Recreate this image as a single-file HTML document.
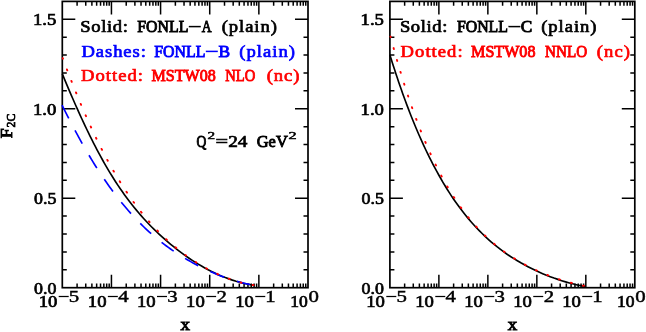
<!DOCTYPE html>
<html><head><meta charset="utf-8"><title>F2C</title>
<style>html,body{margin:0;padding:0;background:#fff;}svg{will-change:transform;}body{width:646px;height:332px;overflow:hidden;font-family:"Liberation Serif",serif;}svg text{font-family:"Liberation Serif",serif;font-weight:normal;}</style>
</head><body>
<svg width="646" height="332" viewBox="0 0 646 332" style="display:block"><rect x="62.3" y="1.4" width="245.70" height="286.30" fill="none" stroke="#000" stroke-width="1.7"/>
<path d="M77.09 287.7v-4.3M77.09 1.4v4.3M85.75 287.7v-4.3M85.75 1.4v4.3M91.89 287.7v-4.3M91.89 1.4v4.3M96.65 287.7v-4.3M96.65 1.4v4.3M100.54 287.7v-4.3M100.54 1.4v4.3M103.83 287.7v-4.3M103.83 1.4v4.3M106.68 287.7v-4.3M106.68 1.4v4.3M109.19 287.7v-4.3M109.19 1.4v4.3M111.44 287.7v-13.0M111.44 1.4v13.0M126.23 287.7v-4.3M126.23 1.4v4.3M134.89 287.7v-4.3M134.89 1.4v4.3M141.03 287.7v-4.3M141.03 1.4v4.3M145.79 287.7v-4.3M145.79 1.4v4.3M149.68 287.7v-4.3M149.68 1.4v4.3M152.97 287.7v-4.3M152.97 1.4v4.3M155.82 287.7v-4.3M155.82 1.4v4.3M158.33 287.7v-4.3M158.33 1.4v4.3M160.58 287.7v-13.0M160.58 1.4v13.0M175.37 287.7v-4.3M175.37 1.4v4.3M184.03 287.7v-4.3M184.03 1.4v4.3M190.17 287.7v-4.3M190.17 1.4v4.3M194.93 287.7v-4.3M194.93 1.4v4.3M198.82 287.7v-4.3M198.82 1.4v4.3M202.11 287.7v-4.3M202.11 1.4v4.3M204.96 287.7v-4.3M204.96 1.4v4.3M207.47 287.7v-4.3M207.47 1.4v4.3M209.72 287.7v-13.0M209.72 1.4v13.0M224.51 287.7v-4.3M224.51 1.4v4.3M233.17 287.7v-4.3M233.17 1.4v4.3M239.31 287.7v-4.3M239.31 1.4v4.3M244.07 287.7v-4.3M244.07 1.4v4.3M247.96 287.7v-4.3M247.96 1.4v4.3M251.25 287.7v-4.3M251.25 1.4v4.3M254.10 287.7v-4.3M254.10 1.4v4.3M256.61 287.7v-4.3M256.61 1.4v4.3M258.86 287.7v-13.0M258.86 1.4v13.0M273.65 287.7v-4.3M273.65 1.4v4.3M282.31 287.7v-4.3M282.31 1.4v4.3M288.45 287.7v-4.3M288.45 1.4v4.3M293.21 287.7v-4.3M293.21 1.4v4.3M297.10 287.7v-4.3M297.10 1.4v4.3M300.39 287.7v-4.3M300.39 1.4v4.3M303.24 287.7v-4.3M303.24 1.4v4.3M305.75 287.7v-4.3M305.75 1.4v4.3M62.3 269.81h4.5M308.0 269.81h-4.5M62.3 251.91h4.5M308.0 251.91h-4.5M62.3 234.02h4.5M308.0 234.02h-4.5M62.3 216.12h4.5M308.0 216.12h-4.5M62.3 198.23h13.0M308.0 198.23h-13.0M62.3 180.34h4.5M308.0 180.34h-4.5M62.3 162.44h4.5M308.0 162.44h-4.5M62.3 144.55h4.5M308.0 144.55h-4.5M62.3 126.66h4.5M308.0 126.66h-4.5M62.3 108.76h13.0M308.0 108.76h-13.0M62.3 90.87h4.5M308.0 90.87h-4.5M62.3 72.98h4.5M308.0 72.98h-4.5M62.3 55.08h4.5M308.0 55.08h-4.5M62.3 37.19h4.5M308.0 37.19h-4.5M62.3 19.29h13.0M308.0 19.29h-13.0" fill="none" stroke="#000" stroke-width="1.5"/>
<rect x="389.9" y="1.4" width="244.90" height="286.30" fill="none" stroke="#000" stroke-width="1.7"/>
<path d="M404.64 287.7v-4.3M404.64 1.4v4.3M413.27 287.7v-4.3M413.27 1.4v4.3M419.39 287.7v-4.3M419.39 1.4v4.3M424.14 287.7v-4.3M424.14 1.4v4.3M428.01 287.7v-4.3M428.01 1.4v4.3M431.29 287.7v-4.3M431.29 1.4v4.3M434.13 287.7v-4.3M434.13 1.4v4.3M436.64 287.7v-4.3M436.64 1.4v4.3M438.88 287.7v-13.0M438.88 1.4v13.0M453.62 287.7v-4.3M453.62 1.4v4.3M462.25 287.7v-4.3M462.25 1.4v4.3M468.37 287.7v-4.3M468.37 1.4v4.3M473.12 287.7v-4.3M473.12 1.4v4.3M476.99 287.7v-4.3M476.99 1.4v4.3M480.27 287.7v-4.3M480.27 1.4v4.3M483.11 287.7v-4.3M483.11 1.4v4.3M485.62 287.7v-4.3M485.62 1.4v4.3M487.86 287.7v-13.0M487.86 1.4v13.0M502.60 287.7v-4.3M502.60 1.4v4.3M511.23 287.7v-4.3M511.23 1.4v4.3M517.35 287.7v-4.3M517.35 1.4v4.3M522.10 287.7v-4.3M522.10 1.4v4.3M525.97 287.7v-4.3M525.97 1.4v4.3M529.25 287.7v-4.3M529.25 1.4v4.3M532.09 287.7v-4.3M532.09 1.4v4.3M534.60 287.7v-4.3M534.60 1.4v4.3M536.84 287.7v-13.0M536.84 1.4v13.0M551.58 287.7v-4.3M551.58 1.4v4.3M560.21 287.7v-4.3M560.21 1.4v4.3M566.33 287.7v-4.3M566.33 1.4v4.3M571.08 287.7v-4.3M571.08 1.4v4.3M574.95 287.7v-4.3M574.95 1.4v4.3M578.23 287.7v-4.3M578.23 1.4v4.3M581.07 287.7v-4.3M581.07 1.4v4.3M583.58 287.7v-4.3M583.58 1.4v4.3M585.82 287.7v-13.0M585.82 1.4v13.0M600.56 287.7v-4.3M600.56 1.4v4.3M609.19 287.7v-4.3M609.19 1.4v4.3M615.31 287.7v-4.3M615.31 1.4v4.3M620.06 287.7v-4.3M620.06 1.4v4.3M623.93 287.7v-4.3M623.93 1.4v4.3M627.21 287.7v-4.3M627.21 1.4v4.3M630.05 287.7v-4.3M630.05 1.4v4.3M632.56 287.7v-4.3M632.56 1.4v4.3M389.9 269.81h4.5M634.8 269.81h-4.5M389.9 251.91h4.5M634.8 251.91h-4.5M389.9 234.02h4.5M634.8 234.02h-4.5M389.9 216.12h4.5M634.8 216.12h-4.5M389.9 198.23h13.0M634.8 198.23h-13.0M389.9 180.34h4.5M634.8 180.34h-4.5M389.9 162.44h4.5M634.8 162.44h-4.5M389.9 144.55h4.5M634.8 144.55h-4.5M389.9 126.66h4.5M634.8 126.66h-4.5M389.9 108.76h13.0M634.8 108.76h-13.0M389.9 90.87h4.5M634.8 90.87h-4.5M389.9 72.98h4.5M634.8 72.98h-4.5M389.9 55.08h4.5M634.8 55.08h-4.5M389.9 37.19h4.5M634.8 37.19h-4.5M389.9 19.29h13.0M634.8 19.29h-13.0" fill="none" stroke="#000" stroke-width="1.5"/>
<path d="M62.30 73.93L63.75 77.42L65.20 80.91L66.66 84.39L68.13 87.88L69.62 91.35L71.11 94.83L72.61 98.29L74.13 101.76L75.66 105.21L77.20 108.67L78.75 112.11L80.32 115.55L81.90 118.99L83.49 122.41L85.10 125.83L86.73 129.25L88.38 132.65L90.04 136.04L91.73 139.43L93.43 142.80L95.16 146.16L96.91 149.52L98.68 152.85L100.47 156.18L102.30 159.49L104.15 162.79L106.03 166.07L107.94 169.33L109.88 172.57L111.85 175.80L113.86 179.00L115.90 182.18L117.98 185.34L120.10 188.47L122.25 191.58L124.44 194.66L126.67 197.71L128.94 200.74L131.25 203.73L133.60 206.69L135.99 209.62L138.42 212.52L140.89 215.38L143.40 218.20L145.95 220.99L148.55 223.74L151.18 226.45L153.86 229.12L156.57 231.75L159.32 234.34L162.11 236.90L164.93 239.41L167.79 241.89L170.68 244.32L173.60 246.72L176.56 249.07L179.56 251.38L182.59 253.64L185.65 255.85L188.75 258.01L191.89 260.12L195.07 262.17L198.28 264.15L201.54 266.08L204.83 267.94L208.15 269.74L211.52 271.46L214.92 273.11L218.36 274.68L221.83 276.17L225.34 277.57L228.89 278.88L232.46 280.11L236.07 281.24L239.71 282.27L243.37 283.20L247.06 284.03L250.77 284.75L254.50 285.37" stroke="#000" stroke-width="1.65" fill="none"/>
<path d="M62.00 105.07L63.90 108.89L65.80 112.68L67.70 116.42L69.60 120.12L71.49 123.78L73.39 127.39L75.29 130.95L77.19 134.47L79.09 137.94L80.99 141.37L82.89 144.74L84.79 148.07L86.69 151.34L88.59 154.57L90.48 157.74L92.38 160.87L94.28 163.95L96.18 166.97L98.08 169.95L99.98 172.87L101.88 175.74L103.78 178.56L105.68 181.34L107.58 184.06L109.47 186.73L111.37 189.35L113.27 191.92L115.17 194.45L117.07 196.92L118.97 199.35L120.87 201.72L122.77 204.05L124.67 206.34L126.57 208.57L128.46 210.77L130.36 212.91L132.26 215.01L134.16 217.07L136.06 219.08L137.96 221.06L139.86 222.98L141.76 224.87L143.66 226.72L145.56 228.53L147.45 230.30L149.35 232.03L151.25 233.72L153.15 235.37L155.05 236.99L156.95 238.58L158.85 240.13L160.75 241.64L162.65 243.13L164.55 244.58L166.44 245.99L168.34 247.38L170.24 248.74L172.14 250.07L174.04 251.37L175.94 252.64L177.84 253.89L179.74 255.10L181.64 256.30L183.54 257.46L185.43 258.60L187.33 259.72L189.23 260.82L191.13 261.89L193.03 262.93L194.93 263.96L196.83 264.96L198.73 265.95L200.63 266.91L202.53 267.85L204.42 268.77L206.32 269.67L208.22 270.55L210.12 271.41L212.02 272.25L213.92 273.07L215.82 273.87L217.72 274.65L219.62 275.41L221.52 276.15L223.41 276.87L225.31 277.56L227.21 278.24L229.11 278.90L231.01 279.53L232.91 280.14L234.81 280.73L236.71 281.29L238.61 281.83L240.51 282.35L242.40 282.83L244.30 283.30L246.20 283.73L248.10 284.13L250.00 284.50" stroke="#00f" stroke-width="1.65" fill="none" stroke-dasharray="15.0 13.5"/>
<path d="M62.75 58.22L64.36 62.56L65.96 66.85L67.57 71.09L69.18 75.28L70.79 79.42L72.39 83.51L74.00 87.56L75.61 91.55L77.21 95.49L78.82 99.38L80.43 103.22L82.04 107.01L83.64 110.75L85.25 114.43L86.86 118.07L88.46 121.65L90.07 125.18L91.68 128.66L93.29 132.09L94.89 135.47L96.50 138.80L98.11 142.08L99.71 145.30L101.32 148.48L102.93 151.60L104.54 154.68L106.14 157.70L107.75 160.68L109.36 163.60L110.96 166.48L112.57 169.31L114.18 172.09L115.79 174.83L117.39 177.51L119.00 180.15L120.61 182.75L122.21 185.29L123.82 187.80L125.43 190.25L127.04 192.67L128.64 195.04L130.25 197.36L131.86 199.64L133.46 201.88L135.07 204.08L136.68 206.24L138.29 208.35L139.89 210.43L141.50 212.47L143.11 214.46L144.71 216.42L146.32 218.34L147.93 220.23L149.54 222.08L151.14 223.89L152.75 225.66L154.36 227.41L155.96 229.11L157.57 230.79L159.18 232.43L160.79 234.04L162.39 235.61L164.00 237.16L165.61 238.67L167.21 240.15L168.82 241.61L170.43 243.03L172.04 244.43L173.64 245.80L175.25 247.14L176.86 248.46L178.46 249.74L180.07 251.01L181.68 252.24L183.29 253.45L184.89 254.64L186.50 255.81L188.11 256.94L189.71 258.06L191.32 259.15L192.93 260.22L194.54 261.27L196.14 262.30L197.75 263.30L199.36 264.29L200.96 265.25L202.57 266.19L204.18 267.11L205.79 268.01L207.39 268.89L209.00 269.75L210.61 270.59L212.21 271.41L213.82 272.21L215.43 272.99L217.04 273.75L218.64 274.49L220.25 275.21L221.86 275.91L223.46 276.59L225.07 277.25L226.68 277.89L228.29 278.50L229.89 279.10L231.50 279.68L233.11 280.23L234.71 280.76L236.32 281.27L237.93 281.75L239.54 282.22L241.14 282.65L242.75 283.07L244.36 283.46L245.96 283.82L247.57 284.15L249.18 284.46L250.79 284.74L252.39 284.99L254.00 285.21" stroke="#f00" stroke-width="1.9" fill="none" stroke-linecap="round" stroke-dasharray="1.0 11.4" stroke-dashoffset="0.5"/>
<path d="M389.90 54.88L391.10 58.76L392.32 62.63L393.55 66.50L394.80 70.37L396.06 74.22L397.34 78.08L398.64 81.92L399.96 85.76L401.30 89.60L402.65 93.42L404.03 97.24L405.42 101.05L406.84 104.86L408.28 108.66L409.74 112.44L411.22 116.22L412.73 119.99L414.26 123.75L415.82 127.50L417.40 131.24L419.01 134.97L420.65 138.68L422.32 142.38L424.01 146.07L425.74 149.74L427.50 153.40L429.30 157.04L431.12 160.67L432.98 164.28L434.88 167.87L436.81 171.44L438.77 174.99L440.77 178.53L442.80 182.04L444.88 185.53L447.00 188.99L449.16 192.43L451.38 195.83L453.65 199.19L455.97 202.53L458.34 205.82L460.76 209.08L463.24 212.29L465.77 215.47L468.36 218.60L471.00 221.68L473.69 224.72L476.44 227.70L479.25 230.63L482.12 233.51L485.04 236.33L488.02 239.08L491.06 241.77L494.16 244.40L497.31 246.96L500.52 249.44L503.78 251.86L507.10 254.20L510.47 256.46L513.88 258.66L517.35 260.78L520.85 262.83L524.40 264.80L527.98 266.71L531.60 268.55L535.25 270.32L538.94 272.02L542.66 273.64L546.41 275.20L550.19 276.67L554.00 278.08L557.84 279.40L561.70 280.66L565.58 281.84L569.49 282.94L573.42 283.97L577.36 284.93L581.32 285.82L585.30 286.64" stroke="#000" stroke-width="1.65" fill="none"/>
<path d="M390.50 36.57L392.13 42.67L393.76 48.64L395.39 54.49L397.02 60.22L398.65 65.82L400.28 71.31L401.91 76.68L403.54 81.93L405.17 87.07L406.80 92.10L408.43 97.02L410.06 101.84L411.69 106.54L413.32 111.15L414.95 115.65L416.58 120.05L418.21 124.36L419.84 128.56L421.47 132.67L423.11 136.69L424.74 140.62L426.37 144.46L428.00 148.20L429.63 151.87L431.26 155.44L432.89 158.94L434.52 162.35L436.15 165.68L437.78 168.94L439.41 172.11L441.04 175.21L442.67 178.24L444.30 181.20L445.93 184.08L447.56 186.89L449.19 189.64L450.82 192.32L452.45 194.94L454.08 197.49L455.71 199.98L457.34 202.41L458.97 204.78L460.60 207.09L462.23 209.34L463.86 211.54L465.49 213.69L467.12 215.78L468.75 217.82L470.38 219.81L472.01 221.75L473.64 223.64L475.27 225.49L476.90 227.29L478.53 229.05L480.16 230.76L481.79 232.43L483.42 234.06L485.05 235.65L486.68 237.20L488.32 238.71L489.95 240.19L491.58 241.63L493.21 243.03L494.84 244.41L496.47 245.74L498.10 247.05L499.73 248.32L501.36 249.57L502.99 250.78L504.62 251.97L506.25 253.12L507.88 254.25L509.51 255.36L511.14 256.44L512.77 257.49L514.40 258.52L516.03 259.52L517.66 260.50L519.29 261.46L520.92 262.40L522.55 263.32L524.18 264.22L525.81 265.09L527.44 265.95L529.07 266.79L530.70 267.61L532.33 268.41L533.96 269.19L535.59 269.96L537.22 270.71L538.85 271.44L540.48 272.16L542.11 272.86L543.74 273.54L545.37 274.21L547.00 274.87L548.63 275.51L550.26 276.13L551.89 276.74L553.53 277.34L555.16 277.92L556.79 278.49L558.42 279.04L560.05 279.58L561.68 280.10L563.31 280.61L564.94 281.11L566.57 281.59L568.20 282.06L569.83 282.51L571.46 282.95L573.09 283.37L574.72 283.78L576.35 284.17L577.98 284.55L579.61 284.91L581.24 285.25L582.87 285.58L584.50 285.89" stroke="#f00" stroke-width="1.9" fill="none" stroke-linecap="round" stroke-dasharray="1.0 11.4" stroke-dashoffset="0.5"/>
<text transform="translate(80.30,32.0) scale(1.07,1)" font-size="17.4" fill="#000" stroke="#000" stroke-width="0.7" letter-spacing="0.573">Solid:</text>
<text x="137.32" y="32.0" font-size="17.4" fill="#000" stroke="#000" stroke-width="0.95" textLength="51.06" lengthAdjust="spacingAndGlyphs">FONLL</text>
<path d="M188.80 26.60h12" stroke="#000" stroke-width="1.5" fill="none"/>
<text x="201.84" y="32.0" font-size="17.4" fill="#000" stroke="#000" stroke-width="0.95" textLength="9.78" lengthAdjust="spacingAndGlyphs">A</text>
<text transform="translate(221.63,32.0) scale(1.07,1)" font-size="17.4" fill="#000" stroke="#000" stroke-width="0.7" letter-spacing="0.889">(plain)</text>
<text transform="translate(81.41,56.8) scale(1.07,1)" font-size="17.4" fill="#00f" stroke="#00f" stroke-width="0.7" letter-spacing="0.872">Dashes:</text>
<text x="154.32" y="56.8" font-size="17.4" fill="#00f" stroke="#00f" stroke-width="0.95" textLength="51.06" lengthAdjust="spacingAndGlyphs">FONLL</text>
<path d="M205.80 51.40h12" stroke="#00f" stroke-width="1.5" fill="none"/>
<text x="218.47" y="56.8" font-size="17.4" fill="#00f" stroke="#00f" stroke-width="0.95" textLength="11.60" lengthAdjust="spacingAndGlyphs">B</text>
<text transform="translate(239.13,56.8) scale(1.07,1)" font-size="17.4" fill="#00f" stroke="#00f" stroke-width="0.7" letter-spacing="0.983">(plain)</text>
<text transform="translate(81.01,81.4) scale(1.07,1)" font-size="17.4" fill="#f00" stroke="#f00" stroke-width="0.7" letter-spacing="0.966">Dotted:</text>
<text x="151.51" y="81.4" font-size="17.4" fill="#f00" stroke="#f00" stroke-width="0.95" textLength="64.33" lengthAdjust="spacingAndGlyphs">MSTW08</text>
<text x="225.25" y="81.4" font-size="17.4" fill="#f00" stroke="#f00" stroke-width="0.95" textLength="30.07" lengthAdjust="spacingAndGlyphs">NLO</text>
<text transform="translate(266.73,81.4) scale(1.07,1)" font-size="17.4" fill="#f00" stroke="#f00" stroke-width="0.7" letter-spacing="0.830">(nc)</text>
<text transform="translate(399.90,32.0) scale(1.07,1)" font-size="17.4" fill="#000" stroke="#000" stroke-width="0.7" letter-spacing="0.573">Solid:</text>
<text x="456.92" y="32.0" font-size="17.4" fill="#000" stroke="#000" stroke-width="0.95" textLength="51.06" lengthAdjust="spacingAndGlyphs">FONLL</text>
<path d="M508.40 26.60h12" stroke="#000" stroke-width="1.5" fill="none"/>
<text x="520.87" y="32.0" font-size="17.4" fill="#000" stroke="#000" stroke-width="0.95" textLength="11.51" lengthAdjust="spacingAndGlyphs">C</text>
<text transform="translate(541.23,32.0) scale(1.07,1)" font-size="17.4" fill="#000" stroke="#000" stroke-width="0.7" letter-spacing="0.889">(plain)</text>
<text transform="translate(400.61,57.0) scale(1.07,1)" font-size="17.4" fill="#f00" stroke="#f00" stroke-width="0.7" letter-spacing="0.966">Dotted:</text>
<text x="471.11" y="57.0" font-size="17.4" fill="#f00" stroke="#f00" stroke-width="0.95" textLength="64.33" lengthAdjust="spacingAndGlyphs">MSTW08</text>
<text x="545.04" y="57.0" font-size="17.4" fill="#f00" stroke="#f00" stroke-width="0.95" textLength="42.11" lengthAdjust="spacingAndGlyphs">NNLO</text>
<text transform="translate(596.73,57.0) scale(1.07,1)" font-size="17.4" fill="#f00" stroke="#f00" stroke-width="0.7" letter-spacing="1.048">(nc)</text>
<text x="196.54" y="146.8" font-size="17.4" fill="#000" stroke="#000" stroke-width="1.0" textLength="9.79" lengthAdjust="spacingAndGlyphs">Q</text>
<text x="207.48" y="138.9" font-size="10.8" fill="#000" stroke="#000" stroke-width="0.5" textLength="7.61" lengthAdjust="spacingAndGlyphs">2</text>
<text x="215.59" y="146.8" font-size="17.4" fill="#000" stroke="#000" stroke-width="0.6" textLength="12.60" lengthAdjust="spacingAndGlyphs">=</text>
<text x="228.20" y="146.8" font-size="17.4" fill="#000" stroke="#000" stroke-width="0.7" textLength="19.25" lengthAdjust="spacingAndGlyphs">24</text>
<text x="256.80" y="146.8" font-size="17.4" fill="#000" stroke="#000" stroke-width="0.95" textLength="30.91" lengthAdjust="spacingAndGlyphs">GeV</text>
<text x="288.54" y="138.9" font-size="10.8" fill="#000" stroke="#000" stroke-width="0.5" textLength="8.11" lengthAdjust="spacingAndGlyphs">2</text>
<text x="33.01" y="25.193749999999987" font-size="16.4" fill="#000" stroke="#000" stroke-width="0.7" textLength="23.37" lengthAdjust="spacingAndGlyphs">1.5</text>
<text x="33.01" y="114.6625" font-size="16.4" fill="#000" stroke="#000" stroke-width="0.7" textLength="23.35" lengthAdjust="spacingAndGlyphs">1.0</text>
<text x="33.97" y="204.13125" font-size="16.4" fill="#000" stroke="#000" stroke-width="0.7" textLength="22.38" lengthAdjust="spacingAndGlyphs">0.5</text>
<text x="33.97" y="293.59999999999997" font-size="16.4" fill="#000" stroke="#000" stroke-width="0.7" textLength="22.36" lengthAdjust="spacingAndGlyphs">0.0</text>
<text x="38.71" y="307.0" font-size="16.4" fill="#000" stroke="#000" stroke-width="0.7" textLength="18.65" lengthAdjust="spacingAndGlyphs">10</text>
<path d="M58.70 296.5h10" stroke="#000" stroke-width="1.25"/>
<text x="68.89" y="301.9" font-size="16.4" fill="#000" stroke="#000" stroke-width="0.45" textLength="10.41" lengthAdjust="spacingAndGlyphs">5</text>
<text x="87.85" y="307.0" font-size="16.4" fill="#000" stroke="#000" stroke-width="0.7" textLength="18.65" lengthAdjust="spacingAndGlyphs">10</text>
<path d="M107.84 296.5h10" stroke="#000" stroke-width="1.25"/>
<text x="118.19" y="301.9" font-size="16.4" fill="#000" stroke="#000" stroke-width="0.45" textLength="10.41" lengthAdjust="spacingAndGlyphs">4</text>
<text x="136.99" y="307.0" font-size="16.4" fill="#000" stroke="#000" stroke-width="0.7" textLength="18.65" lengthAdjust="spacingAndGlyphs">10</text>
<path d="M156.98 296.5h10" stroke="#000" stroke-width="1.25"/>
<text x="167.28" y="301.9" font-size="16.4" fill="#000" stroke="#000" stroke-width="0.45" textLength="10.41" lengthAdjust="spacingAndGlyphs">3</text>
<text x="186.13" y="307.0" font-size="16.4" fill="#000" stroke="#000" stroke-width="0.7" textLength="18.65" lengthAdjust="spacingAndGlyphs">10</text>
<path d="M206.12 296.5h10" stroke="#000" stroke-width="1.25"/>
<text x="216.63" y="301.9" font-size="16.4" fill="#000" stroke="#000" stroke-width="0.45" textLength="10.41" lengthAdjust="spacingAndGlyphs">2</text>
<text x="235.27" y="307.0" font-size="16.4" fill="#000" stroke="#000" stroke-width="0.7" textLength="18.65" lengthAdjust="spacingAndGlyphs">10</text>
<path d="M255.26 296.5h10" stroke="#000" stroke-width="1.25"/>
<text x="265.36" y="301.9" font-size="16.4" fill="#000" stroke="#000" stroke-width="0.45" textLength="10.41" lengthAdjust="spacingAndGlyphs">1</text>
<text x="290.21" y="307.0" font-size="16.4" fill="#000" stroke="#000" stroke-width="0.7" textLength="17.51" lengthAdjust="spacingAndGlyphs">10</text>
<text x="308.54" y="301.9" font-size="16.4" fill="#000" stroke="#000" stroke-width="0.45" textLength="10.41" lengthAdjust="spacingAndGlyphs">0</text>
<text x="180.46" y="329.8" font-size="17.4" fill="#000" stroke="#000" stroke-width="0.95" textLength="9.45" lengthAdjust="spacingAndGlyphs">x</text>
<text x="360.61" y="25.193749999999987" font-size="16.4" fill="#000" stroke="#000" stroke-width="0.7" textLength="23.37" lengthAdjust="spacingAndGlyphs">1.5</text>
<text x="360.61" y="114.6625" font-size="16.4" fill="#000" stroke="#000" stroke-width="0.7" textLength="23.35" lengthAdjust="spacingAndGlyphs">1.0</text>
<text x="361.57" y="204.13125" font-size="16.4" fill="#000" stroke="#000" stroke-width="0.7" textLength="22.38" lengthAdjust="spacingAndGlyphs">0.5</text>
<text x="361.57" y="293.59999999999997" font-size="16.4" fill="#000" stroke="#000" stroke-width="0.7" textLength="22.36" lengthAdjust="spacingAndGlyphs">0.0</text>
<text x="366.31" y="307.0" font-size="16.4" fill="#000" stroke="#000" stroke-width="0.7" textLength="18.65" lengthAdjust="spacingAndGlyphs">10</text>
<path d="M386.30 296.5h10" stroke="#000" stroke-width="1.25"/>
<text x="396.49" y="301.9" font-size="16.4" fill="#000" stroke="#000" stroke-width="0.45" textLength="10.41" lengthAdjust="spacingAndGlyphs">5</text>
<text x="415.29" y="307.0" font-size="16.4" fill="#000" stroke="#000" stroke-width="0.7" textLength="18.65" lengthAdjust="spacingAndGlyphs">10</text>
<path d="M435.28 296.5h10" stroke="#000" stroke-width="1.25"/>
<text x="445.63" y="301.9" font-size="16.4" fill="#000" stroke="#000" stroke-width="0.45" textLength="10.41" lengthAdjust="spacingAndGlyphs">4</text>
<text x="464.27" y="307.0" font-size="16.4" fill="#000" stroke="#000" stroke-width="0.7" textLength="18.65" lengthAdjust="spacingAndGlyphs">10</text>
<path d="M484.26 296.5h10" stroke="#000" stroke-width="1.25"/>
<text x="494.56" y="301.9" font-size="16.4" fill="#000" stroke="#000" stroke-width="0.45" textLength="10.41" lengthAdjust="spacingAndGlyphs">3</text>
<text x="513.25" y="307.0" font-size="16.4" fill="#000" stroke="#000" stroke-width="0.7" textLength="18.65" lengthAdjust="spacingAndGlyphs">10</text>
<path d="M533.24 296.5h10" stroke="#000" stroke-width="1.25"/>
<text x="543.75" y="301.9" font-size="16.4" fill="#000" stroke="#000" stroke-width="0.45" textLength="10.41" lengthAdjust="spacingAndGlyphs">2</text>
<text x="562.23" y="307.0" font-size="16.4" fill="#000" stroke="#000" stroke-width="0.7" textLength="18.65" lengthAdjust="spacingAndGlyphs">10</text>
<path d="M582.22 296.5h10" stroke="#000" stroke-width="1.25"/>
<text x="592.32" y="301.9" font-size="16.4" fill="#000" stroke="#000" stroke-width="0.45" textLength="10.41" lengthAdjust="spacingAndGlyphs">1</text>
<text x="617.01" y="307.0" font-size="16.4" fill="#000" stroke="#000" stroke-width="0.7" textLength="17.51" lengthAdjust="spacingAndGlyphs">10</text>
<text x="635.34" y="301.9" font-size="16.4" fill="#000" stroke="#000" stroke-width="0.45" textLength="10.41" lengthAdjust="spacingAndGlyphs">0</text>
<text x="507.66" y="329.8" font-size="17.4" fill="#000" stroke="#000" stroke-width="0.95" textLength="9.45" lengthAdjust="spacingAndGlyphs">x</text>
<g transform="translate(11.5,138.3) rotate(-90)">
<text x="-0.04" y="0" font-size="17.4" fill="#000" stroke="#000" stroke-width="0.95" textLength="10.02" lengthAdjust="spacingAndGlyphs">F</text>
<text x="10.89" y="3.9" font-size="13.4" fill="#000" stroke="#000" stroke-width="0.8" textLength="13.66" lengthAdjust="spacingAndGlyphs">2C</text>
</g></svg>
</body></html>
